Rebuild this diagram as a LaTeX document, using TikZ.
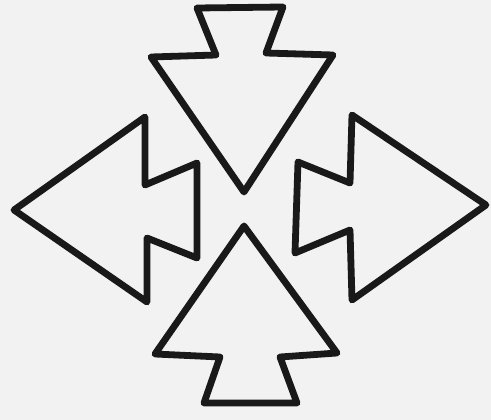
\documentclass[tikz,border=0pt]{standalone}
\begin{document}
\begin{tikzpicture}[x=1pt,y=-1pt,
  arrowshape/.style={draw=black!90,line width=6.8pt,line join=round}]
\fill[black!5] (0,0) rectangle (491,420);
\useasboundingbox (0,0) rectangle (491,420);
% top arrow (points down)
\draw[arrowshape] (151,57) -- (216,55) -- (197,8) -- (283,7) -- (266,53) -- (333,55) -- (244,192) -- cycle;
% bottom arrow (points up)
\draw[arrowshape] (244,226) -- (337,353) -- (280,357) -- (297,403) -- (204,403) -- (220,357) -- (155,354) -- cycle;
% left arrow (points left)
\draw[arrowshape] (14,210) -- (145,117) -- (145,185) -- (197,163) -- (197,258) -- (147,238) -- (147,302) -- cycle;
% right arrow (points right)
\draw[arrowshape] (486,205) -- (352,300) -- (350,230) -- (295,253) -- (298,162) -- (350,183) -- (352,115) -- cycle;
\end{tikzpicture}
\end{document}
